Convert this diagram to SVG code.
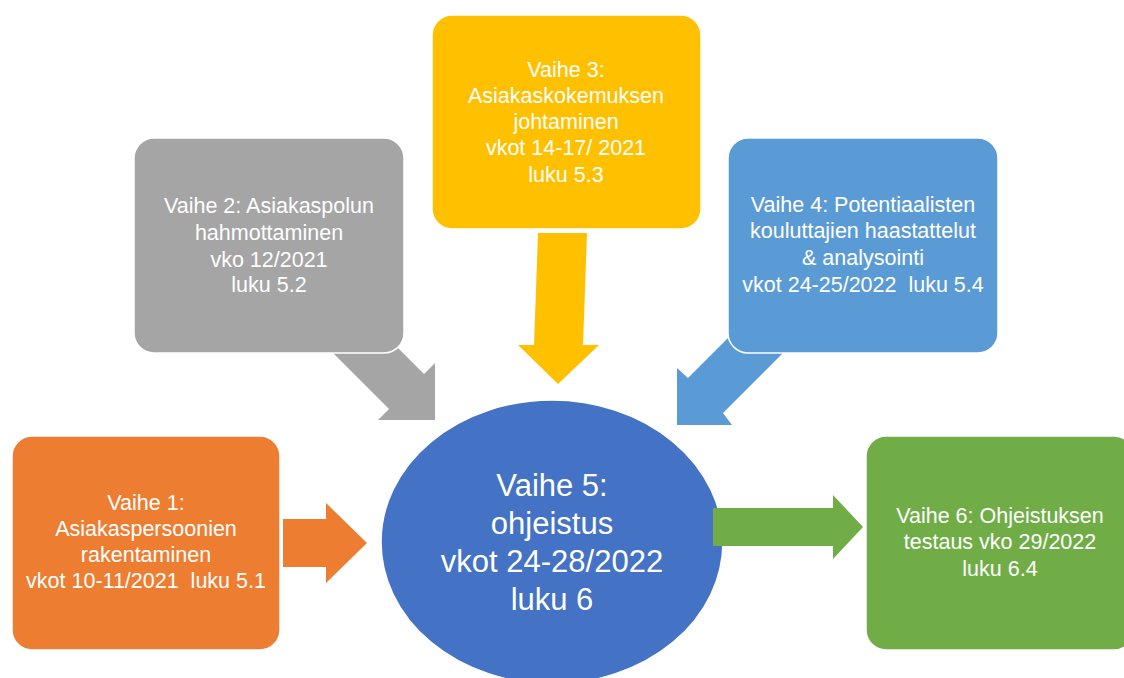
<svg xmlns="http://www.w3.org/2000/svg" width="1124" height="678" viewBox="0 0 1124 678">
<style>
.box{stroke:#fff;stroke-width:1.5}
.t{font-family:"Liberation Sans",Arial,sans-serif;font-size:21.5px;fill:#fff;text-anchor:middle;white-space:pre}
.big{font-size:31px}
</style>
<rect width="1124" height="678" fill="#fff"/>
<g id="connectors">
  <polygon id="arrow-gray" fill="#A5A5A5" points="310,330 380,330 424,374 435,363 435,420 378,420 389,409"/>
  <polygon id="arrow-yellow" fill="#FFC000" points="538,233 587,233 583,345 599,345 558,384 518,345 534,345"/>
  <polygon id="arrow-blue" fill="#5B9BD5" points="736,330 806,330 723,413 732,425 677,425 677,368 688,378"/>
  <polygon id="arrow-orange" fill="#ED7D31" points="283,519 326,519 326,503 367,543 326,583 326,567 283,567"/>
</g>
<g id="node-vaihe2">
  <rect class="box" x="134" y="138" width="270" height="215" rx="20" fill="#A5A5A5"/>
  <text class="t" x="269" y="213">Vaihe 2: Asiakaspolun</text>
  <text class="t" x="269" y="240">hahmottaminen</text>
  <text class="t" x="269" y="267">vko 12/2021</text>
  <text class="t" x="269" y="292">luku 5.2</text>
</g>
<g id="node-vaihe3">
  <rect class="box" x="432" y="15" width="269" height="214" rx="20" fill="#FFC000"/>
  <text class="t" x="566" y="77">Vaihe 3:</text>
  <text class="t" x="566" y="103">Asiakaskokemuksen</text>
  <text class="t" x="566" y="129">johtaminen</text>
  <text class="t" x="566" y="155">vkot 14-17/ 2021</text>
  <text class="t" x="566" y="182">luku 5.3</text>
</g>
<g id="node-vaihe4">
  <rect class="box" x="728" y="138" width="270" height="215" rx="20" fill="#5B9BD5"/>
  <text class="t" x="863" y="212">Vaihe 4: Potentiaalisten</text>
  <text class="t" x="863" y="238">kouluttajien haastattelut</text>
  <text class="t" x="863" y="265">&amp; analysointi</text>
  <text class="t" x="863" y="292">vkot 24-25/2022  luku 5.4</text>
</g>
<g id="node-vaihe1">
  <rect class="box" x="12" y="436" width="268" height="214" rx="20" fill="#ED7D31"/>
  <text class="t" x="146" y="510">Vaihe 1:</text>
  <text class="t" x="146" y="536">Asiakaspersoonien</text>
  <text class="t" x="146" y="562">rakentaminen</text>
  <text class="t" x="146" y="588">vkot 10-11/2021  luku 5.1</text>
</g>
<g id="node-vaihe5">
  <ellipse class="box" cx="552" cy="542" rx="171" ry="142" fill="#4472C4"/>
  <text class="t big" x="552" y="496">Vaihe 5:</text>
  <text class="t big" x="552" y="534">ohjeistus</text>
  <text class="t big" x="552" y="572">vkot 24-28/2022</text>
  <text class="t big" x="552" y="610">luku 6</text>
</g>
<g id="connectors-top">
  <polygon id="arrow-green" fill="#70AD47" points="713,508 833,508 833,495 863,527 833,559 833,546 713,546"/>
</g>
<g id="node-vaihe6">
  <rect class="box" x="866" y="436" width="268" height="214" rx="20" fill="#70AD47"/>
  <text class="t" x="1000" y="523">Vaihe 6: Ohjeistuksen</text>
  <text class="t" x="1000" y="549">testaus vko 29/2022</text>
  <text class="t" x="1000" y="576">luku 6.4</text>
</g>
</svg>
